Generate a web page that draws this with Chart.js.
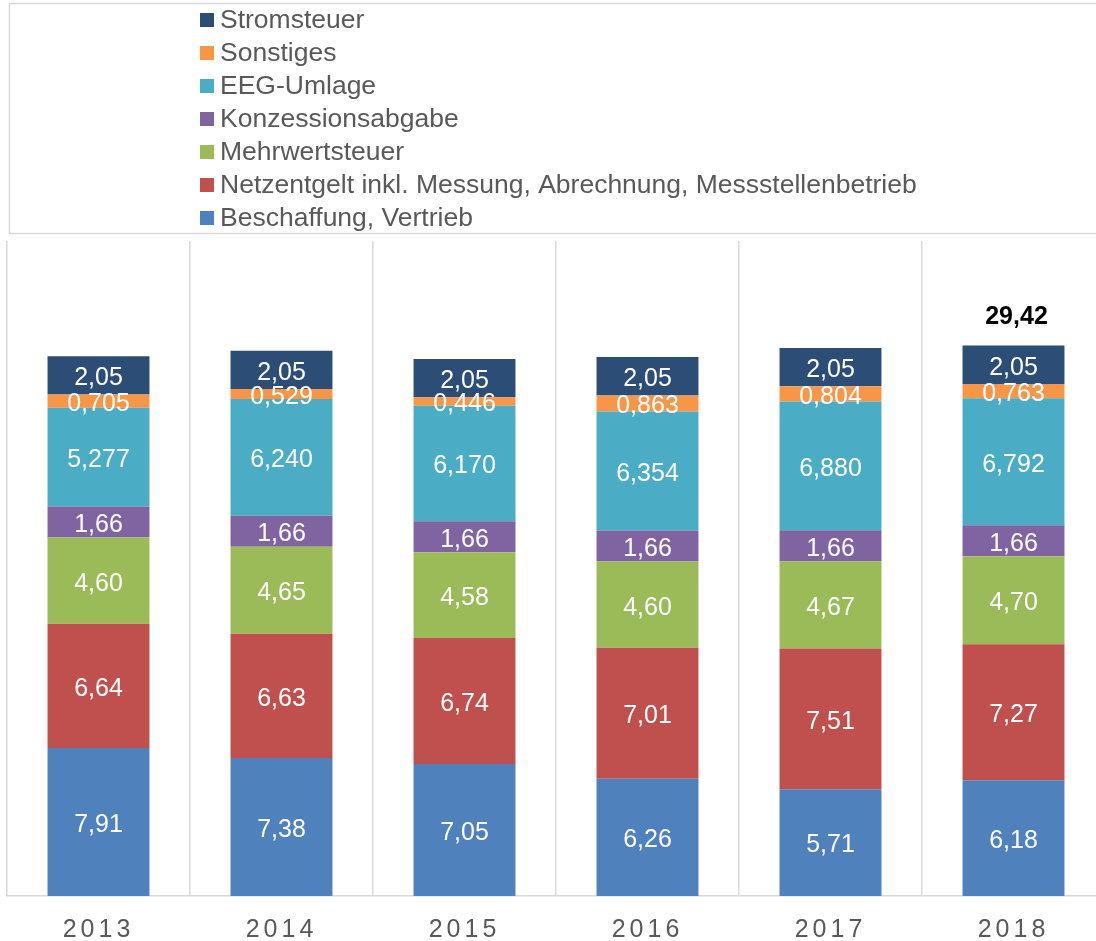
<!DOCTYPE html>
<html>
<head>
<meta charset="utf-8">
<script src="https://cdn.jsdelivr.net/npm/chart.js@4"></script>
<style>
html,body{margin:0;padding:0;background:#fff;overflow:hidden;width:1096px;height:941px;}
canvas{display:block;}
</style>
</head>
<body>
<canvas id="c" width="1110" height="941"></canvas>
<script>
// ---- data ----
const years = ['2013', '2014', '2015', '2016', '2017', '2018'];
const beschaffung = [7.91, 7.38, 7.05, 6.26, 5.71, 6.18];
const netzentgelt = [6.64, 6.63, 6.74, 7.01, 7.51, 7.27];
const mehrwertsteuer = [4.60, 4.65, 4.58, 4.60, 4.67, 4.70];
const konzession = [1.66, 1.66, 1.66, 1.66, 1.66, 1.66];
const eegUmlage = [5.277, 6.240, 6.170, 6.354, 6.880, 6.792];
const sonstiges = [0.705, 0.529, 0.446, 0.863, 0.804, 0.763];
const stromsteuer = [2.05, 2.05, 2.05, 2.05, 2.05, 2.05];
const seriesNames = ['Beschaffung, Vertrieb', 'Netzentgelt inkl. Messung, Abrechnung, Messstellenbetrieb',
  'Mehrwertsteuer', 'Konzessionsabgabe', 'EEG-Umlage', 'Sonstiges', 'Stromsteuer'];
const labelDecimals = [2, 2, 2, 2, 3, 3, 2];
const totalShown = [false, false, false, false, false, true];

const colors = ['#4f81bd', '#c0504d', '#9bbb59', '#8064a2', '#4bacc6', '#f79646', '#2c4d75'];
const seriesValues = [beschaffung, netzentgelt, mehrwertsteuer, konzession, eegUmlage, sonstiges, stromsteuer];

const FONT = "'Liberation Sans', Arial, Helvetica, sans-serif";

function fmt(v, d) { return (v + 1e-9).toFixed(d).replace('.', ','); }

const datasets = seriesValues.map((vals, i) => ({
  label: seriesNames[i],
  data: vals,
  backgroundColor: colors[i],
  borderWidth: 0,
  categoryPercentage: 1.0,
  barPercentage: 0.557
}));

const spacingPlugin = {
  id: 'spacing',
  beforeDraw(chart) { chart.ctx.letterSpacing = '4px'; },
  beforeDatasetsDraw(chart) { chart.ctx.letterSpacing = '0px'; }
};

const labelPlugin = {
  id: 'labels',
  afterDatasetsDraw(chart) {
    const ctx = chart.ctx;
    ctx.save();
    ctx.letterSpacing = '0px';
    ctx.textAlign = 'center';
    ctx.textBaseline = 'middle';
    ctx.fillStyle = '#ffffff';
    ctx.font = '25px ' + FONT;
    chart.data.datasets.forEach((ds, di) => {
      const meta = chart.getDatasetMeta(di);
      meta.data.forEach((el, i) => {
        const top = Math.min(el.y, el.base), bot = Math.max(el.y, el.base);
        ctx.fillText(fmt(ds.data[i], labelDecimals[di]), el.x, (top + bot) / 2 + 3);
      });
    });
    // totals
    ctx.fillStyle = '#000000';
    ctx.font = 'bold 25px ' + FONT;
    const last = chart.getDatasetMeta(chart.data.datasets.length - 1);
    years.forEach((y, i) => {
      if (!totalShown[i]) return;
      let sum = 0;
      chart.data.datasets.forEach(ds => { sum += ds.data[i]; });
      const el = last.data[i];
      ctx.fillText(fmt(sum, 2), el.x + 3, el.y - 28);
    });
    ctx.restore();
  }
};

const legendPlugin = {
  id: 'boxLegend',
  afterDraw(chart) {
    const ctx = chart.ctx;
    ctx.save();
    ctx.letterSpacing = '0px';
    ctx.strokeStyle = '#d9d9d9';
    ctx.lineWidth = 1.5;
    ctx.strokeRect(9.5, 3.5, 1300, 230);
    ctx.font = '26.5px ' + FONT;
    ctx.textAlign = 'left';
    ctx.textBaseline = 'middle';
    const n = chart.data.datasets.length;
    for (let k = 0; k < n; k++) {
      const di = n - 1 - k;
      const cy = 20 + 33 * k;
      ctx.fillStyle = colors[di];
      ctx.fillRect(200, cy - 7, 14, 14);
      ctx.fillStyle = '#595959';
      ctx.fillText(chart.data.datasets[di].label, 220, cy + 1);
    }
    ctx.restore();
  }
};

new Chart(document.getElementById('c'), {
  type: 'bar',
  data: { labels: years, datasets: datasets },
  options: {
    responsive: false,
    animation: false,
    devicePixelRatio: 1,
    layout: { padding: { top: 241, left: 7, right: 5, bottom: 0 } },
    plugins: { legend: { display: false }, tooltip: { enabled: false } },
    scales: {
      x: {
        stacked: true,
        offset: true,
        grid: { display: true, offset: true, drawTicks: false, color: '#d9d9d9', lineWidth: 1.5 },
        border: { display: true, color: '#d9d9d9', width: 1.5 },
        ticks: { color: '#595959', font: { size: 25, family: FONT }, padding: 19, maxRotation: 0 },
        afterFit(scale) { scale.height = 45; }
      },
      y: {
        stacked: true,
        display: false,
        min: 0,
        max: 35
      }
    }
  },
  plugins: [spacingPlugin, labelPlugin, legendPlugin]
});
</script>
</body>
</html>
